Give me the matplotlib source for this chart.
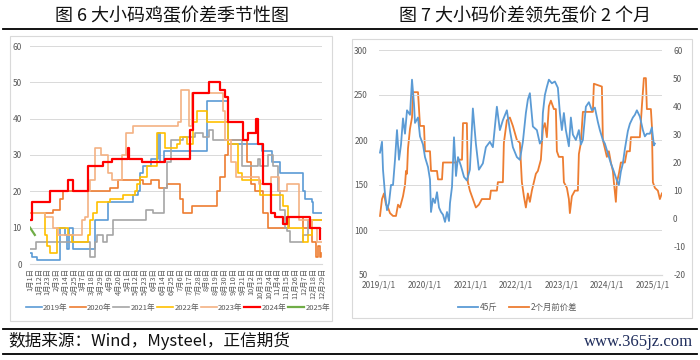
import matplotlib
matplotlib.use('Agg')
import matplotlib.pyplot as plt
import pandas as pd
from matplotlib.patches import Rectangle
from matplotlib.lines import Line2D

plt.rcParams['font.family'] = ['Noto Sans CJK SC', 'DejaVu Sans']
plt.rcParams['axes.unicode_minus'] = False

# ---------------- left chart: seasonal spread (day of year, value) ----------------
day_labels = ['1月1日', '1月12日', '1月23日', '2月3日', '2月14日', '2月25日', '3月7日',
              '3月18日', '3月29日', '4月9日', '4月20日', '5月1日', '5月12日', '5月23日',
              '6月3日', '6月14日', '6月25日', '7月6日', '7月17日', '7月28日', '8月8日',
              '8月19日', '8月30日', '9月10日', '9月21日', '10月2日', '10月13日', '10月24日',
              '11月4日', '11月15日', '11月26日', '12月7日', '12月18日', '12月29日']

days_2019 = [0, 3, 9, 34, 37, 44, 46, 48, 53, 78, 81, 97, 128, 134, 137, 140, 150, 159, 161, 166,
             215, 220, 246, 286, 289, 301, 311, 340, 342, 350, 352, 363]
vals_2019 = [3, 2, 1, 1, 10, 8, 4, 10, 4, 4, 12, 17, 19, 20, 25, 27, 29, 36, 28, 31,
             31, 45, 33, 33, 31, 28, 25, 20, 18, 17, 14, 14]

days_2020 = [0, 29, 37, 41, 100, 110, 140, 150, 160, 170, 187, 190, 202, 228, 232, 236, 242,
             246, 266, 270, 275, 280, 290, 296, 318, 322, 340, 350, 356, 358, 360, 362]
vals_2020 = [14, 15, 18, 20, 21, 23, 22, 23, 21, 22, 18, 14, 16, 16, 20, 24, 30,
             34, 34, 28, 22, 20, 14, 10, 10, 13, 10, 6, 2, 5, 2, 3]

days_2021 = [0, 8, 75, 81, 83, 91, 96, 103, 144, 153, 166, 170, 175, 190, 205, 215, 222, 228,
             262, 264, 282, 284, 286, 296, 302, 308, 311, 317, 320, 323, 340, 345, 363]
vals_2021 = [4, 6, 2, 6, 8, 6, 8, 12, 15, 14, 21, 28, 34, 35, 36, 35, 37, 34,
             34, 27, 27, 29, 27, 30, 27, 20, 15, 10, 9, 6, 8, 12, 12]

days_2022 = [0, 15, 19, 21, 25, 34, 40, 47, 52, 71, 72, 75, 78, 83, 100, 116, 131, 133, 137,
             146, 158, 168, 183, 187, 195, 203, 208, 220, 246, 259, 264, 286, 315, 321, 340,
             345, 351, 363]
vals_2022 = [14, 14, 8, 5, 3, 10, 10, 8, 6, 6, 8, 12, 14, 17, 18, 19, 20, 22, 24,
             27, 36, 32, 33, 35, 33, 39, 42, 39, 33, 25, 23, 19, 16, 10, 6,
             8, 12, 12]

days_2023 = [0, 19, 29, 35, 60, 65, 68, 72, 75, 81, 88, 97, 102, 114, 119, 128, 184, 188,
             198, 201, 240, 243, 250, 256, 262, 285, 300, 310, 320, 335, 350, 357, 363]
vals_2023 = [14, 13, 10, 8, 8, 12, 13, 20, 23, 32, 30, 25, 23, 30, 36, 38, 39, 48,
             38, 47, 42, 34, 28, 24, 24, 22, 24, 20, 22, 12, 10, 6, 6]

days_2024 = [0, 2, 25, 47, 53, 72, 91, 102, 122, 123, 139, 168, 199, 203, 223, 236, 243, 246,
             265, 271, 281, 284, 290, 299, 305, 315, 320, 348, 358, 361]
vals_2024 = [12, 17, 20, 23, 20, 27, 28, 29, 32, 29, 28, 29, 37, 47, 50, 48, 46, 39,
             34, 36, 40, 33, 22, 14, 13, 11, 13, 10, 10, 7]

days_2025 = [0, 3, 6]
vals_2025 = [10, 9, 8]

years = ['2019年', '2020年', '2021年', '2022年', '2023年', '2024年', '2025年']
year_colors = ['#5B9BD5', '#ED7D31', '#A5A5A5', '#FFC000', '#F4B183', '#FF0000', '#70AD47']

# ---------------- right chart: price vs spread led 2 months ----------------
price_dates = ['2019-01-09', '2019-01-25', '2019-02-02', '2019-02-18', '2019-03-06', '2019-03-22',
               '2019-04-07', '2019-04-23', '2019-05-09', '2019-05-25', '2019-06-10', '2019-06-26',
               '2019-07-12', '2019-07-28', '2019-08-13', '2019-09-06', '2019-09-22', '2019-10-08',
               '2019-10-16', '2019-11-09', '2019-11-25', '2019-12-19', '2020-01-04', '2020-01-28',
               '2020-02-13', '2020-02-21', '2020-03-08', '2020-03-24', '2020-04-09', '2020-04-25',
               '2020-05-11', '2020-05-27', '2020-06-12', '2020-06-28', '2020-07-14', '2020-07-22',
               '2020-08-07', '2020-08-23', '2020-09-08', '2020-09-24', '2020-10-18', '2020-11-11',
               '2020-12-04', '2020-12-28', '2021-01-21', '2021-02-14', '2021-03-10', '2021-04-11',
               '2021-05-05', '2021-06-06', '2021-06-30', '2021-08-01', '2021-08-25', '2021-09-18',
               '2021-10-20', '2021-11-13', '2021-12-07', '2022-01-08', '2022-02-01', '2022-02-25',
               '2022-03-21', '2022-04-06', '2022-04-22', '2022-05-16', '2022-06-17', '2022-07-11',
               '2022-07-27', '2022-08-04', '2022-08-20', '2022-09-05', '2022-09-21', '2022-10-15',
               '2022-11-08', '2022-12-02', '2022-12-18', '2023-01-03', '2023-01-19', '2023-02-04',
               '2023-02-28', '2023-03-16', '2023-04-01', '2023-04-25', '2023-05-19', '2023-06-04',
               '2023-06-20', '2023-07-14', '2023-08-07', '2023-08-31', '2023-09-24', '2023-10-18',
               '2023-11-03', '2023-11-27', '2023-12-13', '2024-01-06', '2024-01-30', '2024-02-23',
               '2024-03-18', '2024-04-03', '2024-04-19', '2024-05-05', '2024-05-21', '2024-06-14',
               '2024-06-30', '2024-07-24', '2024-08-09', '2024-08-25', '2024-09-18', '2024-10-12',
               '2024-10-28', '2024-11-13', '2024-12-07', '2024-12-23', '2025-01-08', '2025-01-16']
price_45 = [186, 198, 167, 140, 122, 130, 150, 150, 178, 211, 178, 195,
            224, 207, 233, 228, 267, 240, 219, 225, 204, 195, 181, 170,
            156, 120, 135, 130, 142, 125, 120, 117, 109, 120, 110, 130,
            148, 203, 160, 181, 171, 159, 155, 167, 235, 196, 167, 174,
            192, 198, 192, 237, 211, 222, 233, 211, 192, 181, 178, 198,
            230, 245, 252, 215, 211, 196, 200, 230, 250, 259, 267, 263,
            265, 258, 230, 211, 230, 211, 193, 225, 206, 200, 211, 195,
            200, 237, 242, 233, 236, 220, 211, 200, 196, 185, 174, 165,
            155, 150, 165, 174, 190, 210, 218, 225, 228, 233, 226, 211,
            204, 207, 207, 214, 194, 196]

spread_dates = ['2019-01-09', '2019-01-25', '2019-02-10', '2019-02-26', '2019-03-14', '2019-03-30',
                '2019-04-23', '2019-05-17', '2019-06-02', '2019-06-18', '2019-07-12', '2019-07-28',
                '2019-08-05', '2019-08-13', '2019-08-21', '2019-09-06', '2019-09-22', '2019-09-30',
                '2019-11-09', '2019-11-25', '2019-12-27', '2020-01-04', '2020-02-13', '2020-02-21',
                '2020-04-09', '2020-04-17', '2020-05-19', '2020-05-27', '2020-09-16', '2020-09-24',
                '2020-10-26', '2020-11-03', '2020-12-04', '2020-12-12', '2020-12-28', '2021-01-21',
                '2021-02-14', '2021-03-10', '2021-04-03', '2021-06-06', '2021-06-14', '2021-08-01',
                '2021-08-09', '2021-09-18', '2021-09-26', '2021-10-20', '2021-11-13', '2021-12-07',
                '2022-01-08', '2022-02-01', '2022-02-17', '2022-03-05', '2022-03-21', '2022-04-06',
                '2022-04-22', '2022-05-08', '2022-05-24', '2022-06-09', '2022-06-25', '2022-07-19',
                '2022-08-04', '2022-08-20', '2022-09-05', '2022-09-21', '2022-10-07', '2022-10-31',
                '2022-11-16', '2022-11-24', '2022-12-10', '2023-01-11', '2023-01-19', '2023-02-12',
                '2023-02-28', '2023-03-08', '2023-03-24', '2023-04-17', '2023-05-11', '2023-05-19',
                '2023-06-04', '2023-06-20', '2023-09-08', '2023-09-16', '2023-11-19', '2023-11-27',
                '2023-12-13', '2023-12-29', '2024-01-14', '2024-01-30', '2024-02-15', '2024-02-23',
                '2024-03-10', '2024-03-18', '2024-04-03', '2024-04-19', '2024-05-21', '2024-06-06',
                '2024-06-30', '2024-07-08', '2024-09-18', '2024-10-04', '2024-10-20', '2024-11-05',
                '2024-11-13', '2024-12-15', '2024-12-23', '2024-12-31', '2025-01-16', '2025-02-09',
                '2025-02-25', '2025-03-13']
spread_2m = [1, 7, 9, 5, 4, 2, 1, 1, 5, 4, 8, 12,
             17, 16, 25, 32, 36, 45, 45, 33, 33, 24, 24, 17,
             17, 14, 14, 20, 20, 21, 21, 34, 34, 13, 10, 7,
             4, 5, 7, 7, 10, 10, 13, 13, 27, 35, 36, 33,
             28, 27, 13, 8, 4, 9, 6, 10, 13, 16, 17, 21,
             32, 34, 29, 40, 42, 39, 39, 24, 22, 22, 13, 11,
             7, 2, 8, 10, 10, 23, 27, 38, 38, 48, 47, 28,
             25, 22, 24, 20, 17, 13, 6, 13, 16, 20, 20, 24,
             24, 29, 29, 40, 50, 50, 39, 39, 33, 13, 11, 10,
             7, 9]

year_ticks = ['2019-01-01', '2020-01-01', '2021-01-01', '2022-01-01', '2023-01-01',
              '2024-01-01', '2025-01-01']
year_tick_labels = ['2019/1/1', '2020/1/1', '2021/1/1', '2022/1/1', '2023/1/1',
                    '2024/1/1', '2025/1/1']

W, H = 700, 360
fig = plt.figure(figsize=(7, 3.6), dpi=100)
fig.patch.set_facecolor('white')

def box(x0, y0, x1, y1):
    return [x0 / W, 1 - y1 / H, (x1 - x0) / W, (y1 - y0) / H]

def hline(y, x0, x1, lw=1.3):
    fig.add_artist(Line2D([x0 / W, x1 / W], [1 - y / H, 1 - y / H], color='black', lw=lw))

# frames
for x0, y0, x1, y1 in [(10, 36, 332, 321), (352, 39, 692, 318)]:
    fig.add_artist(Rectangle((x0 / W, 1 - y1 / H), (x1 - x0) / W, (y1 - y0) / H,
                             fill=False, edgecolor='#D9D9D9', lw=0.8))
hline(29, 3, 697)
hline(329, 3, 697)
hline(354, 3, 697)

fig.text(172 / W, 1 - 16 / H, '图 6 大小码鸡蛋价差季节性图', ha='center', va='center',
         fontsize=13, color='#111111')
fig.text(525 / W, 1 - 16 / H, '图 7 大小码价差领先蛋价 2 个月', ha='center', va='center',
         fontsize=13, color='#111111')
fig.text(8 / W, 1 - 341 / H, '数据来源：Wind，Mysteel，正信期货', ha='left', va='center',
         fontsize=12, color='#111111')
fig.text(693 / W, 1 - 342 / H, 'www.365jz.com', ha='right', va='center',
         fontsize=12, color='#1F2D5C', family=['Liberation Serif', 'DejaVu Serif'])

GRAY = '#595959'
GRID = '#D9D9D9'

# ---------------- left axes ----------------
ax1 = fig.add_axes(box(30, 46, 322, 264))
series = [(days_2019, vals_2019), (days_2020, vals_2020), (days_2021, vals_2021),
          (days_2022, vals_2022), (days_2023, vals_2023), (days_2024, vals_2024)]
for i, (d, v) in enumerate(series):
    lw = 1.6 if i == 5 else 1.2
    ax1.step(d, v, where='post', color=year_colors[i], lw=lw, label=years[i], zorder=3 + (i == 5))
ax1.plot(days_2025, vals_2025, color=year_colors[6], lw=1.6, label=years[6], zorder=5)
ax1.set_xlim(0, 363)
ax1.set_ylim(0, 60)
ax1.set_yticks(range(0, 61, 10))
ax1.set_xticks(range(0, 364, 11))
ax1.set_xticklabels(day_labels, rotation=90, fontsize=5.3, color=GRAY)
ax1.tick_params(axis='y', labelsize=6, colors=GRAY, length=0, pad=6)
ax1.tick_params(axis='x', length=0, pad=3)
ax1.grid(axis='y', color=GRID, lw=0.7)
ax1.set_axisbelow(True)
for s in ['top', 'right', 'left']:
    ax1.spines[s].set_visible(False)
ax1.spines['bottom'].set_color(GRID)
ax1.legend(loc='center', bbox_to_anchor=(178 / W, 1 - 308 / H), bbox_transform=fig.transFigure,
           ncol=7, frameon=False, fontsize=5.5, handlelength=2.1, handletextpad=0.15,
           columnspacing=0.25, labelcolor=GRAY, borderpad=0.2)

# ---------------- right axes ----------------
ax2 = fig.add_axes(box(379, 50, 662, 275))
ax3 = ax2.twinx()
pd_price = pd.to_datetime(price_dates)
pd_spread = pd.to_datetime(spread_dates)
l1, = ax2.plot(pd_price, price_45, color='#5B9BD5', lw=1.3, label='45斤', zorder=3)
l2, = ax3.plot(pd_spread, spread_2m, color='#ED7D31', lw=1.3, label='2个月前价差', zorder=2)
ax2.set_zorder(ax3.get_zorder() + 1)
ax2.patch.set_visible(False)
ax2.set_xlim(pd.Timestamp('2019-01-01'), pd.Timestamp('2025-03-14'))
ax2.set_ylim(50, 300)
ax3.set_ylim(-20, 60)
ax2.set_yticks(range(50, 301, 50))
ax3.set_yticks(range(-20, 61, 10))
ax2.set_xticks(pd.to_datetime(year_ticks))
ax2.set_xticklabels(year_tick_labels, fontsize=6, color=GRAY)
ax2.tick_params(axis='y', labelsize=6, colors=GRAY, length=0, pad=8)
ax3.tick_params(axis='y', labelsize=6, colors=GRAY, length=0, pad=8)
ax2.tick_params(axis='x', length=0, pad=4)
ax2.grid(axis='y', color=GRID, lw=0.7)
for a in (ax2, ax3):
    for s in ['top', 'right', 'left']:
        a.spines[s].set_visible(False)
    a.spines['bottom'].set_color(GRID)
ax2.legend(handles=[l1, l2], loc='center', bbox_to_anchor=(518 / W, 1 - 307 / H),
           bbox_transform=fig.transFigure, ncol=2, frameon=False, fontsize=6,
           handlelength=2.4, handletextpad=0.2, columnspacing=1.4, labelcolor=GRAY)

fig.savefig('out.png', dpi=100)
